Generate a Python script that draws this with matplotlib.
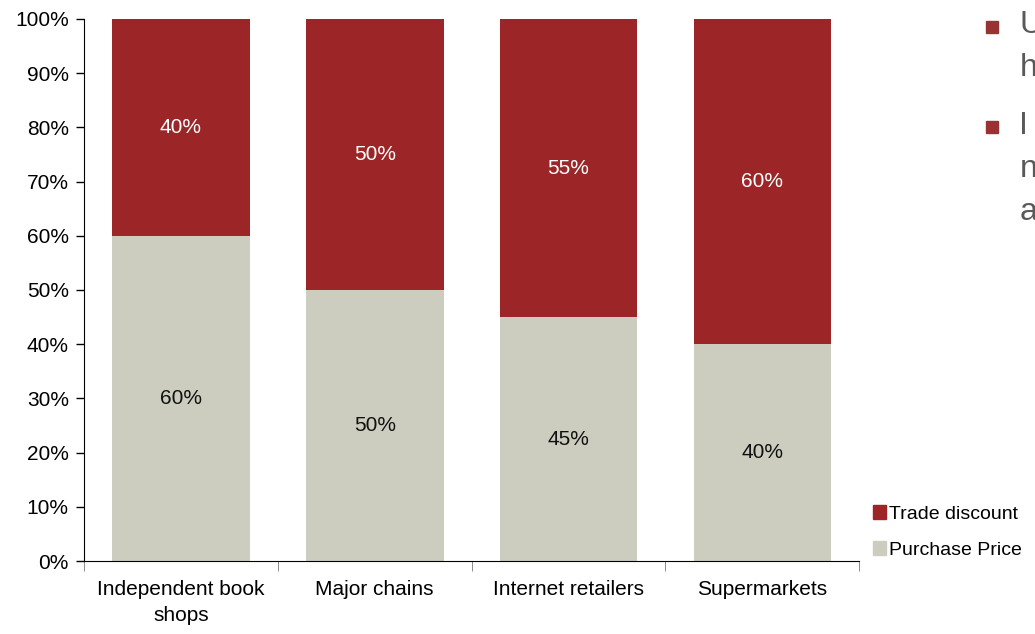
import matplotlib.pyplot as plt
import matplotlib.patches as mpatches
import numpy as np

plt.rcParams['font.family'] = ['Liberation Sans', 'DejaVu Sans']

channels = ['Independent book\nshops', 'Major chains', 'Internet retailers', 'Supermarkets']
purchase_price = [60, 50, 45, 40]
trade_discount = [40, 50, 55, 60]
y_ticks = np.arange(0, 101, 10)

RED = '#9b2527'
GREY = '#cccdbf'
FS = 15

fig = plt.figure(figsize=(10.35, 6.34), dpi=100)
ax = fig.add_axes([0.0812, 0.1151, 0.749, 0.855])

x = np.arange(len(channels))
w = 0.71
ax.bar(x, purchase_price, w, color=GREY, label='Purchase Price')
ax.bar(x, trade_discount, w, bottom=purchase_price, color=RED, label='Trade discount')

for i in range(len(channels)):
    ax.text(x[i], purchase_price[i] / 2, f'{purchase_price[i]}%', ha='center', va='center',
            color='#111111', fontsize=FS)
    ax.text(x[i], purchase_price[i] + trade_discount[i] / 2, f'{trade_discount[i]}%',
            ha='center', va='center', color='white', fontsize=FS)

ax.set_xlim(-0.5, len(channels) - 0.5)
ax.set_ylim(0, 100)
ax.set_yticks(y_ticks)
ax.set_yticklabels([f'{v}%' for v in y_ticks], fontsize=FS)
ax.set_xticks(x)
ax.set_xticklabels(channels, fontsize=FS, linespacing=1.45)
ax.tick_params(axis='x', length=0, pad=14)
ax.tick_params(axis='y', length=6, width=1, pad=5)
ax.set_xticks(np.arange(-0.5, len(channels)), minor=True)
ax.tick_params(axis='x', which='minor', length=7, color='#777777')
ax.spines['top'].set_visible(False)
ax.spines['right'].set_visible(False)

# legend in the lower right margin
handles = [mpatches.Patch(color=RED, label='Trade discount'),
           mpatches.Patch(color=GREY, label='Purchase Price')]
fig.legend(handles=handles, loc='lower left', bbox_to_anchor=(0.843, 0.119),
           frameon=False, fontsize=14, handlelength=0.7, handleheight=0.75,
           handletextpad=0.15, labelspacing=0.9, borderpad=0, borderaxespad=0)

# bullet points running off the right edge
bullet_text = [('U', 'h'), ('I', 'n', 'a')]
bullet_y = [0.965, 0.807]
for lines, top in zip(bullet_text, bullet_y):
    fig.patches.append(mpatches.Rectangle((0.953, top - 0.017), 0.0115, 0.019,
                                          transform=fig.transFigure, color='#993333'))
    for j, s in enumerate(lines):
        fig.text(0.985, top - 0.005 - j * 0.068, s, fontsize=23, color='#595959',
                 ha='left', va='center')

fig.savefig('out.png', dpi=100)
